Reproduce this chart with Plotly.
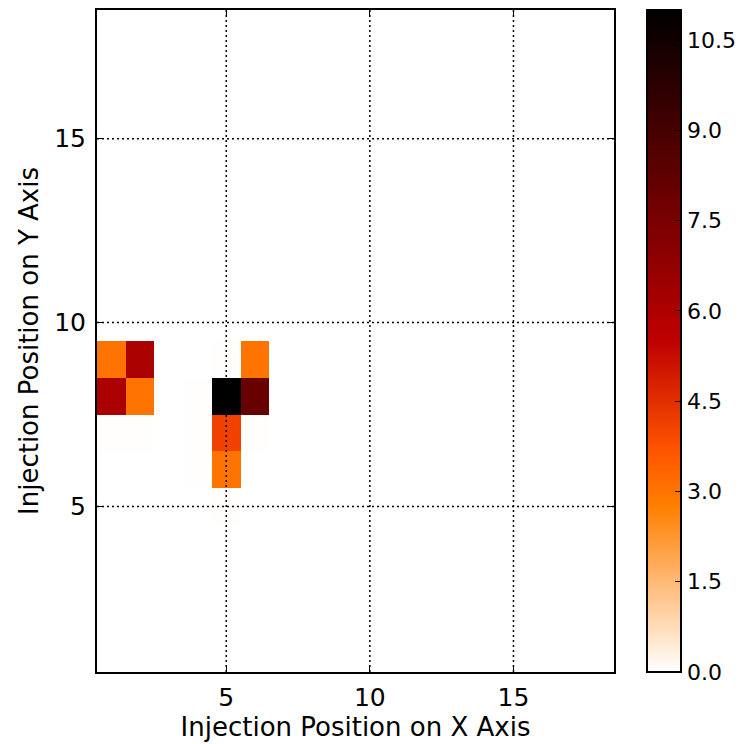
import numpy as np
import plotly.graph_objects as go

# Grid of injection positions (1..18 on each axis)
x_positions = list(range(1, 19))
y_positions = list(range(1, 19))
tick_values = [5, 10, 15]

# Non-zero cells: (x, y, value)
cell_x = [1, 2, 1, 2, 5, 6, 6, 5, 5, 1, 2, 4, 4, 4, 5, 5, 6]
cell_y = [9, 9, 8, 8, 8, 8, 9, 7, 6, 7, 7, 8, 7, 6, 9, 5, 7]
cell_v = [3.0, 6.1, 6.1, 3.0, 11.0, 8.0, 3.0, 4.1, 3.0,
          0.03, 0.03, 0.02, 0.02, 0.02, 0.02, 0.02, 0.02]

z = np.zeros((len(y_positions), len(x_positions)))
for cx, cy, v in zip(cell_x, cell_y, cell_v):
    z[y_positions.index(cy), x_positions.index(cx)] = v

# Reversed "gist_heat" colour map
def gist_heat_r(n=64):
    scale = []
    for i in range(n + 1):
        s = i / n
        t = 1 - s
        r = min(1.0, max(0.0, 1.5 * t))
        g = min(1.0, max(0.0, 2 * t - 1))
        b = min(1.0, max(0.0, 4 * t - 3))
        scale.append([s, f"rgb({round(r*255)},{round(g*255)},{round(b*255)})"])
    return scale

cbar_ticks = [0.0, 1.5, 3.0, 4.5, 6.0, 7.5, 9.0, 10.5]
FONT = "DejaVu Sans"

fig = go.Figure(go.Heatmap(
    x=x_positions, y=y_positions, z=z,
    zmin=0, zmax=11.0,
    colorscale=gist_heat_r(),
    colorbar=dict(
        x=1.064, xanchor="left", xref="paper",
        y=0, yanchor="bottom", len=1, lenmode="fraction",
        thickness=34, thicknessmode="pixels",
        outlinewidth=2, outlinecolor="black",
        ticks="inside", ticklen=7, tickwidth=1, tickcolor="black",
        tickvals=cbar_ticks, ticktext=[f"{t:.1f}" for t in cbar_ticks],
        tickfont=dict(family=FONT, size=22, color="black"),
        xpad=0, ypad=0,
    ),
    hoverinfo="skip",
))

# Dotted grid drawn on top of the cells
grid = dict(color="black", width=1.5, dash="2px,3px")
for v in tick_values:
    fig.add_shape(type="line", xref="x", yref="paper", x0=v, x1=v, y0=0, y1=1,
                  line=grid, layer="above")
    fig.add_shape(type="line", xref="paper", yref="y", x0=0, x1=1, y0=v, y1=v,
                  line=grid, layer="above")

axis_common = dict(
    range=[0.5, 18.5], tickvals=tick_values,
    ticks="inside", ticklen=7, tickwidth=1, tickcolor="black",
    showline=True, linecolor="black", linewidth=2, mirror="ticks",
    showgrid=False, zeroline=False, layer="above traces",
    tickfont=dict(family=FONT, size=25, color="black"),
)

fig.update_layout(
    width=753, height=744,
    margin=dict(l=97, r=139, t=8, b=72),
    paper_bgcolor="white", plot_bgcolor="white",
    xaxis=dict(axis_common, ticklabelstandoff=2,
               title=dict(text="Injection Position on X Axis",
                          font=dict(family=FONT, size=26, color="black"), standoff=5)),
    yaxis=dict(axis_common, ticklabelstandoff=4,
               title=dict(text="Injection Position on Y Axis",
                          font=dict(family=FONT, size=26, color="black"), standoff=8)),
)

fig.write_html("out.html")
